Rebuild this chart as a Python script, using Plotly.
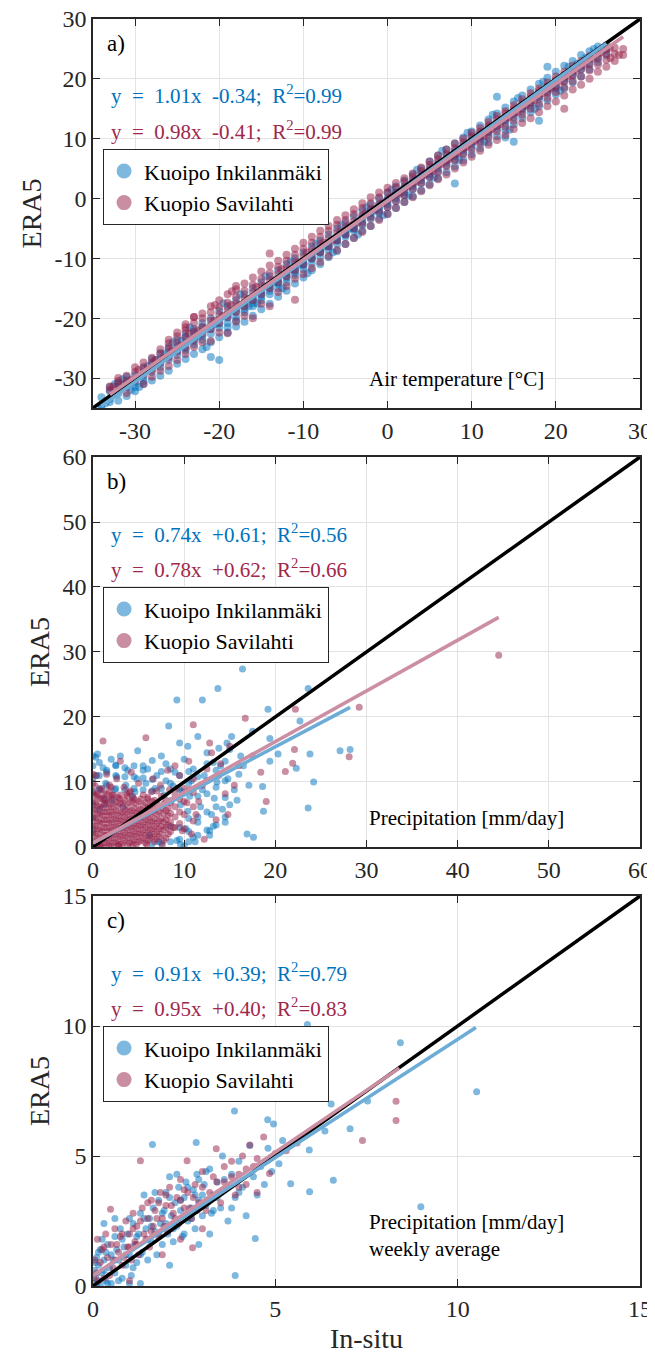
import plotly.graph_objects as go
from plotly.subplots import make_subplots

FONT = "Liberation Serif, Times New Roman, Tinos, DejaVu Serif, serif"
INK = "#262626"

# Station names
BLUE_NAME = "Kuoipo Inkilanmäki"
RED_NAME = "Kuopio Savilahti"

# a) daily air temperature: in-situ value -> ERA5 values read along the band
a_blue_cols = {
    -34: [-35.0, -34.5, -33.2], -33: [-34.0, -33.5, -32.2, -31.5], -32: [-33.8, -32.6, -31.0, -30.8],
    -31: [-33.0, -31.6, -30.4, -29.8], -30: [-32.2, -30.8, -29.5, -31.5], -29: [-31.0, -29.8, -28.4, -30.5],
    -28: [-30.4, -29.0, -27.6, -26.8], -27: [-29.6, -28.2, -26.8, -25.8, -27.5],
    -26: [-28.8, -27.0, -25.6, -24.8, -26.3], -25: [-27.6, -26.2, -24.8, -23.6, -25.5],
    -24: [-26.8, -25.4, -24.0, -22.6, -23.2, -25.0], -23: [-26.0, -24.4, -23.0, -21.8, -22.4, -23.8],
    -22: [-25.2, -23.6, -22.2, -20.8, -21.6, -22.9], -21: [-26.5, -24.0, -22.6, -21.2, -20.0, -21.8],
    -20: [-27.0, -23.2, -21.6, -20.2, -18.8, -20.9], -19: [-22.4, -20.8, -19.4, -18.0, -19.9, -21.5],
    -18: [-21.4, -19.8, -18.4, -17.0, -18.9, -20.4], -17: [-20.6, -19.0, -17.4, -16.0, -17.9, -18.5],
    -16: [-19.6, -18.0, -16.4, -15.0, -16.9, -17.5], -15: [-18.5, -17.0, -15.5, -14.0, -15.9, -16.4],
    -14: [-17.6, -16.0, -14.5, -13.0, -14.9, -15.4], -13: [-16.4, -15.0, -13.4, -12.0, -13.9, -14.3],
    -12: [-15.4, -14.0, -12.4, -11.0, -12.9, -13.3], -11: [-14.2, -12.8, -11.4, -10.0, -11.9, -12.3],
    -10: [-13.2, -11.8, -10.4, -9.0, -10.9, -11.2], -9: [-12.0, -10.8, -9.4, -8.0, -9.9, -10.1],
    -8: [-11.0, -9.8, -8.4, -7.0, -8.9, -9.0], -7: [-9.8, -8.6, -7.4, -6.0, -7.9, -8.0],
    -6: [-8.8, -7.6, -6.4, -5.0, -6.9, -7.0], -5: [-7.6, -6.4, -5.4, -4.0, -5.9, -6.0],
    -4: [-6.6, -5.4, -4.4, -3.0, -4.9, -5.0], -3: [-5.4, -4.4, -3.4, -2.0, -3.9, -3.0],
    -2: [-4.6, -3.4, -2.4, -1.0, -2.9, -2.0], -1: [-3.4, -2.4, -1.4, 0.0, -1.9, -1.0],
    0: [-2.6, -1.4, -0.4, 1.0, -0.9, 0.0], 1: [-1.6, -0.4, 0.6, 2.0, 0.1, 1.0],
    2: [-0.6, 0.6, 1.6, 3.0, 1.1, 2.0], 3: [0.4, 1.6, 2.6, 4.0, 2.1, 3.0],
    4: [1.4, 2.6, 3.6, 5.0, 3.1, 4.0], 5: [2.4, 3.6, 4.6, 6.2, 4.1, 5.0],
    6: [3.4, 4.6, 5.6, 7.2, 5.1, 6.0], 7: [4.4, 5.6, 6.6, 8.2, 6.1, 7.0],
    8: [2.5, 5.4, 6.6, 7.6, 9.2, 7.1, 8.0], 9: [6.4, 7.6, 8.6, 10.2, 8.1, 9.0],
    10: [7.4, 8.6, 9.6, 11.2, 9.1, 10.0], 11: [8.4, 9.6, 10.6, 12.2, 10.1, 11.0],
    12: [9.4, 10.6, 11.6, 13.2, 11.1, 12.0], 13: [10.4, 11.6, 12.6, 14.2, 17.0, 12.1],
    14: [11.4, 12.6, 13.6, 15.2, 10.2, 13.1], 15: [9.5, 12.4, 13.6, 14.6, 16.2, 14.1],
    16: [13.4, 14.6, 15.6, 17.2, 15.1], 17: [14.4, 15.6, 16.6, 18.2, 16.1],
    18: [15.4, 16.6, 17.6, 19.2, 13.0, 17.1], 19: [16.4, 17.6, 18.6, 20.2, 22.0, 18.1],
    20: [17.4, 18.6, 19.6, 21.2, 18.5], 21: [18.4, 19.6, 20.6, 22.2, 20.1],
    22: [19.4, 20.6, 21.6, 23.0, 21.1], 23: [20.4, 21.6, 22.6, 24.0, 22.1],
    24: [21.6, 22.6, 23.6, 24.6], 25: [22.8, 23.6, 24.6, 25.4], 26: [24.0, 24.8, 25.6],
}
a_red_cols = {
    -33: [-32.0, -31.4], -32: [-31.4, -30.5, -30.0], -31: [-32.5, -30.6, -29.6], -30: [-30.4, -29.0, -28.2],
    -29: [-31.0, -29.4, -28.2, -27.4], -28: [-29.8, -28.6, -27.4, -26.6], -27: [-28.8, -27.4, -26.0, -25.2],
    -26: [-28.0, -26.6, -25.0, -24.2, -23.6], -25: [-27.0, -25.6, -24.2, -23.0, -22.4],
    -24: [-26.0, -24.8, -23.2, -22.0, -21.0], -23: [-24.8, -23.6, -22.2, -20.8, -19.8],
    -22: [-24.0, -22.6, -21.4, -20.0, -19.2], -21: [-23.8, -21.8, -20.4, -19.0, -18.0],
    -20: [-22.4, -20.8, -19.4, -18.2, -17.0], -19: [-22.5, -19.8, -18.6, -17.4, -16.0],
    -18: [-20.6, -19.0, -17.6, -16.4, -15.2, -14.6], -17: [-19.6, -18.0, -16.6, -15.4, -14.2],
    -16: [-20.0, -17.0, -15.6, -14.4, -13.2], -15: [-17.6, -16.0, -14.6, -13.4, -12.2],
    -14: [-18.0, -15.0, -13.6, -12.4, -11.2, -9.2], -13: [-15.6, -14.0, -12.6, -11.4, -10.4],
    -12: [-14.6, -13.0, -11.6, -10.4, -9.4], -11: [-16.9, -12.0, -10.6, -9.4, -8.4, -13.4],
    -10: [-12.6, -11.0, -9.6, -8.4, -7.4], -9: [-11.6, -10.0, -8.6, -7.4, -6.4],
    -8: [-10.6, -9.0, -7.6, -6.4, -5.4], -7: [-9.6, -8.0, -6.6, -5.4, -4.6],
    -6: [-8.6, -7.0, -5.6, -4.4, -3.6], -5: [-7.6, -6.0, -4.8, -3.6, -2.8],
    -4: [-6.6, -5.0, -3.8, -2.6, -1.8], -3: [-5.6, -4.2, -2.8, -1.6, -0.8],
    -2: [-4.6, -3.2, -1.8, -0.8, 0.2], -1: [-3.6, -2.2, -1.0, 0.2, 1.0],
    0: [-2.6, -1.4, -0.2, 1.0, 1.8], 1: [-1.6, -0.4, 0.8, 1.8, 2.6],
    2: [-0.6, 0.6, 1.8, 2.8, 3.4], 3: [0.2, 1.6, 2.6, 3.6, 4.2],
    4: [1.2, 2.6, 3.6, 4.6, 5.2], 5: [2.2, 3.6, 4.6, 5.6, 6.2],
    6: [3.2, 4.4, 5.6, 6.6, 7.2], 7: [4.0, 5.4, 6.4, 7.4, 8.2],
    8: [5.0, 6.4, 7.4, 8.4, 9.2], 9: [6.0, 7.4, 8.4, 9.4, 10.0],
    10: [7.0, 8.2, 9.4, 10.4, 11.0], 11: [8.0, 9.2, 10.4, 11.2, 11.8],
    12: [9.0, 10.2, 11.2, 12.2, 12.8], 13: [9.8, 11.2, 12.2, 13.2, 13.8],
    14: [10.6, 12.0, 13.2, 14.2, 14.6], 15: [11.6, 13.0, 14.2, 15.0, 15.6],
    16: [12.6, 14.0, 15.0, 16.0, 16.6], 17: [13.4, 15.0, 16.0, 17.0, 17.6],
    18: [14.4, 15.8, 17.0, 18.0, 18.4], 19: [15.4, 16.8, 17.8, 18.8, 19.4],
    20: [16.2, 17.8, 18.8, 19.8, 20.4], 21: [15.0, 17.2, 18.6, 19.6, 20.6, 21.2],
    22: [18.2, 19.6, 20.6, 21.6, 22.2], 23: [19.0, 20.4, 21.6, 22.6, 23.0],
    24: [20.0, 21.4, 22.4, 23.4, 23.8], 25: [21.2, 22.4, 23.4, 24.2],
    26: [22.0, 23.2, 24.2, 25.0], 27: [23.0, 24.2, 25.2], 28: [24.0, 25.0],
}
# scattered points between the columns
a_blue_pts = [(-33.5, -34.2), (-32.4, -31.0), (-31.5, -30.2), (-30.5, -32.0), (-29.5, -31.5), (-28.5, -28.0),
              (-27.5, -27.0), (-26.5, -26.0), (-25.5, -24.0), (-24.5, -23.8), (-23.5, -21.5), (-22.5, -23.0),
              (-21.5, -24.8), (-20.5, -21.0), (-19.5, -17.5), (-18.5, -18.8), (-17.5, -16.0), (-16.5, -18.0),
              (-15.5, -17.5), (-14.5, -13.0), (-13.5, -14.0), (-12.5, -15.0), (-11.5, -10.5), (-10.5, -11.0),
              (-9.5, -12.5), (-8.5, -7.5), (-7.5, -8.0), (-6.5, -9.0), (-5.5, -4.5), (-4.5, -5.0),
              (-3.5, -6.0), (-2.5, -1.5), (-1.5, -2.0), (-0.5, -2.8), (0.5, 1.5), (1.5, 1.0),
              (2.5, 0.5), (3.5, 4.8), (4.5, 4.0), (5.5, 3.5), (6.5, 8.0), (7.5, 7.0),
              (8.5, 6.5), (9.5, 11.0), (10.5, 10.0), (11.5, 9.5), (12.5, 14.0), (13.5, 13.0),
              (14.5, 11.5), (15.5, 16.8), (16.5, 15.5), (17.5, 15.0), (18.5, 19.5), (19.5, 18.5),
              (20.5, 18.0), (21.5, 22.0), (22.5, 22.5), (23.5, 23.5), (24.5, 25.0), (25.5, 25.0)]
a_red_pts = [(-32.6, -31.4), (-31.4, -31.0), (-30.4, -30.3), (-29.6, -28.6), (-28.6, -28.6), (-27.6, -27.0),
             (-26.6, -26.6), (-25.6, -25.4), (-24.6, -24.6), (-23.6, -22.6), (-22.6, -22.0), (-21.6, -21.8),
             (-20.6, -20.4), (-19.6, -19.6), (-18.6, -17.8), (-17.6, -17.8), (-16.6, -16.8), (-15.6, -14.8),
             (-14.6, -14.6), (-13.6, -13.6), (-12.6, -11.8), (-11.6, -11.8), (-10.6, -10.6), (-9.6, -9.0),
             (-8.6, -8.8), (-7.6, -7.4), (-6.6, -7.0), (-5.6, -5.6), (-4.6, -4.6), (-3.6, -4.0),
             (-2.6, -2.6), (-1.6, -1.8), (-0.6, -0.8), (0.4, 0.2), (1.4, 0.8), (2.4, 2.0),
             (3.4, 2.8), (4.4, 4.0), (5.4, 4.6), (6.4, 5.8), (7.4, 6.6), (8.4, 7.6),
             (9.4, 8.6), (10.4, 9.6), (11.4, 10.4), (12.4, 11.6), (13.4, 12.4), (14.4, 13.6),
             (15.4, 14.4), (16.4, 15.6), (17.4, 16.4), (18.4, 17.6), (19.4, 18.4), (20.4, 19.6),
             (21.4, 20.4), (22.4, 21.4), (23.4, 22.4), (24.4, 23.4), (25.4, 24.4), (26.4, 25.2),
             (27.5, 24.0), (26.5, 23.5), (-24.0, -21.5), (-23.0, -19.8), (-20.5, -17.8), (-18.5, -15.5)]

# b) daily precipitation [mm/day]
b_blue_cols = {
    0.0: [0.5, 2.5, 4.5, 6.5, 8.5, 10.5, 12.5, 14.0], 0.7: [9.0, 11.0, 13.0], 1.5: [9.5, 11.8],
    2.5: [9.0, 11.0, 12.6], 3.5: [8.8, 10.8, 12.2], 4.5: [9.0, 10.8, 12.5], 5.5: [8.8, 10.6, 11.8],
    6.5: [0.5, 8.6, 10.4], 7.5: [0.6, 9.0, 11.6], 8.5: [0.8, 3.2, 9.8, 12.0], 9.5: [1.2, 3.0, 8.8, 11.0],
    10.5: [0.8, 2.4, 4.4, 9.8, 11.6], 11.5: [1.8, 4.6, 7.8, 10.8], 12.5: [2.6, 5.4, 8.2, 10.2, 12.8],
    13.5: [3.4, 6.2, 9.2, 11.8], 14.5: [4.6, 7.6, 10.2, 13.2],
}
b_red_cols = {
    0.0: [0.2, 1.0, 2.2, 3.4, 4.6, 5.8, 7.0, 8.4, 9.8, 11.2], 0.25: [0.8, 2.0, 3.2, 4.4, 5.6, 6.8, 8.0, 9.4],
    0.5: [0.4, 1.6, 2.8, 4.0, 5.2, 6.4, 7.8], 0.75: [0.2, 1.4, 2.6, 3.8, 5.0, 6.2, 7.4, 8.8],
    1.0: [0.0, 1.2, 2.4, 3.6, 4.8, 6.0, 7.4, 9.0], 1.25: [0.6, 1.8, 3.0, 4.2, 5.4, 6.6, 8.0],
    1.5: [0.6, 1.8, 3.0, 4.2, 5.4, 6.8, 8.2], 1.75: [0.2, 1.2, 2.4, 3.6, 4.8, 6.0, 7.2, 8.6],
    2.0: [0.2, 1.4, 2.6, 3.8, 5.0, 6.2, 7.6, 9.2], 2.25: [0.6, 1.8, 3.0, 4.2, 5.4, 6.6, 8.0],
    2.5: [0.8, 2.0, 3.2, 4.4, 5.6, 7.0], 2.75: [0.2, 1.2, 2.4, 3.6, 4.8, 6.2, 7.6],
    3.0: [0.4, 1.6, 2.8, 4.0, 5.2, 6.6, 8.0], 3.25: [0.6, 1.8, 3.0, 4.2, 5.4, 6.8],
    3.5: [1.0, 2.2, 3.4, 4.6, 5.8, 7.2], 3.75: [0.2, 1.4, 2.6, 3.8, 5.0, 6.2, 7.8],
    4.0: [0.6, 1.8, 3.0, 4.2, 5.4, 6.8, 8.4], 4.25: [0.8, 2.0, 3.2, 4.4, 5.6, 7.0],
    4.5: [1.2, 2.4, 3.6, 4.8, 6.0, 7.4], 4.75: [0.4, 1.6, 2.8, 4.0, 5.2, 6.6],
    5.0: [0.8, 2.0, 3.2, 4.4, 5.6, 7.0], 5.25: [1.0, 2.2, 3.4, 4.6, 5.8, 7.4],
    5.5: [1.4, 2.6, 3.8, 5.0, 6.4, 8.0], 5.75: [0.6, 1.8, 3.0, 4.2, 5.4, 6.8],
    6.0: [1.0, 2.2, 3.4, 4.6, 6.0, 7.6], 6.25: [1.4, 2.6, 3.8, 5.0, 6.4],
    6.5: [1.6, 2.8, 4.0, 5.4, 7.0], 6.75: [0.8, 2.0, 3.2, 4.4, 5.8, 7.2],
    7.0: [1.2, 2.4, 3.6, 5.0, 6.6, 8.6], 7.25: [1.6, 2.8, 4.0, 5.4],
    7.5: [2.0, 3.2, 4.4, 6.0, 7.8], 7.75: [1.0, 2.6, 3.8, 5.2, 6.6],
    8.0: [1.4, 3.0, 4.2, 5.6, 7.2], 8.25: [2.0, 3.4, 4.8, 6.0],
    8.5: [2.4, 3.8, 5.2, 6.8], 9.0: [3.0, 4.6, 6.2, 8.0],
    9.5: [3.6, 5.4, 7.4], 10.0: [2.8, 5.0, 7.0, 9.0], 11.0: [4.0, 6.2, 8.4],
}
b_blue_pts = [(0.3, 13.8), (0.5, 14.3), (1.2, 7.5), (1.4, 9.8), (1.5, 11.5), (2.4, 8.8), (2.6, 10.8),
              (3.6, 9.5), (3.8, 11.8), (4.6, 8.5), (4.8, 10.5), (5.8, 9.8), (6.0, 12.0), (6.8, 9.0),
              (7.0, 11.0), (7.8, 8.0), (8.0, 10.2), (8.6, 7.2), (8.8, 9.4), (9.0, 11.5), (9.6, 6.5),
              (9.8, 8.5), (10.0, 13.5), (10.2, 2.8), (10.4, 5.5), (10.6, 7.8), (10.8, 10.2), (11.0, 12.0),
              (11.2, 0.8), (11.5, 3.8), (11.8, 6.2), (12.0, 8.8), (12.2, 11.0), (12.5, 14.5), (12.8, 2.5),
              (13.0, 5.0), (13.3, 7.5), (13.6, 10.0), (14.0, 12.5), (14.5, 3.8), (15.0, 6.5), (15.5, 8.8),
              (16.0, 11.2), (15.2, 17.0), (14.7, 16.0), (13.2, 13.0), (10.4, 15.5), (9.5, 16.0), (4.9, 14.8),
              (3.0, 14.0), (2.5, 12.5), (6.5, 13.3), (7.5, 14.0), (11.5, 17.0), (13.8, 15.2), (12.8, 1.8),
              (10.0, 0.2), (5.5, 12.5), (8.0, 12.8), (2.0, 13.5), (0.4, 11.0), (1.1, 12.2), (4.3, 7.8),
              (0.9, 8.8), (2.1, 7.2), (1.3, 6.5), (0.7, 5.8), (3.3, 6.2), (6.2, 1.8), (7.2, 0.8), (9.2, 1.0),
              (15.8, 7.2), (16.5, 12.5), (14.8, 10.5), (14.2, 5.8), (13.2, 3.2), (11.0, 1.5), (9.6, 0.4),
              (16.4, 27.4), (13.7, 24.4), (23.6, 24.4), (9.2, 22.6), (12.0, 22.6), (19.2, 21.2), (22.7, 19.4),
              (8.3, 18.6), (19.4, 16.7), (24.2, 10.0), (23.6, 6.0), (18.7, 5.5), (16.9, 2.0), (17.6, 1.5),
              (27.1, 14.8), (28.2, 15.0), (23.8, 14.3), (22.3, 12.1), (20.3, 14.3), (19.4, 13.2), (18.6, 9.3),
              (17.1, 9.5), (16.2, 14.0), (17.5, 17.8), (15.0, 15.0)]
b_red_pts = [(0.3, 11.0), (1.1, 16.3), (1.8, 9.5), (2.6, 10.5), (3.4, 9.2), (4.1, 8.6), (4.2, 11.5),
             (5.0, 9.8), (5.8, 16.8), (6.4, 8.5), (6.6, 10.5), (7.4, 9.5), (8.2, 11.8), (9.2, 9.0),
             (9.5, 11.0), (10.6, 8.8), (11.0, 10.5), (11.3, 5.0), (11.6, 7.0), (12.0, 9.5), (12.5, 12.0),
             (11.0, 18.8), (13.0, 14.5), (12.8, 16.0), (14.0, 12.8), (13.5, 4.2), (14.8, 5.0), (15.5, 9.5),
             (16.0, 12.5), (15.0, 15.5), (16.7, 19.8), (22.2, 21.2), (29.2, 21.5), (44.5, 29.5), (22.1, 15.0),
             (21.9, 12.9), (21.1, 11.6), (18.4, 11.5), (28.1, 13.9), (17.5, 14.0), (13.8, 11.0), (10.5, 13.2),
             (3.0, 13.2), (1.5, 11.2), (9.0, 12.5), (12.2, 1.2), (10.8, 2.0), (19.0, 7.0), (14.5, 8.2),
             (9.8, 2.5), (10.3, 6.8), (8.8, 3.0), (8.4, 8.8), (0.8, 0.2), (2.8, 0.2), (4.4, 0.3), (5.9, 0.4),
             (7.6, 0.3), (3.7, 8.2), (2.1, 8.0), (0.5, 8.2), (1.3, 7.2), (2.9, 7.4), (4.4, 7.6), (6.0, 7.4)]

# c) weekly average precipitation [mm/day]
c_blue_pts = [(0.02, 0.1), (0.05, 0.6), (0.1, 1.1), (0.08, 0.3), (0.15, 0.8), (0.2, 0.05), (0.2, 1.4), (0.25, 0.5),
              (0.3, 1.0), (0.35, 0.2), (0.4, 1.6), (0.45, 0.7), (0.5, 1.2), (0.5, 0.1), (0.6, 1.9), (0.6, 0.5),
              (0.7, 1.0), (0.75, 2.2), (0.8, 0.3), (0.85, 1.5), (0.9, 0.8), (0.95, 2.0), (1.0, 1.2), (1.05, 0.4),
              (1.1, 2.4), (1.15, 1.6), (1.2, 0.9), (1.25, 2.0), (1.3, 2.8), (1.35, 1.3), (1.4, 3.5), (1.45, 2.2),
              (1.5, 1.0), (1.55, 2.6), (1.6, 1.7), (1.65, 3.0), (1.7, 2.1), (1.75, 1.2), (1.8, 3.3), (1.85, 2.4),
              (1.9, 1.6), (1.95, 2.9), (2.0, 3.6), (2.05, 2.0), (2.1, 4.2), (2.15, 2.7), (2.2, 1.7), (2.25, 3.2),
              (2.3, 2.3), (2.35, 3.8), (2.4, 2.9), (2.45, 1.9), (2.5, 3.4), (2.55, 4.0), (2.6, 2.5), (2.7, 3.0),
              (2.75, 3.7), (2.8, 2.2), (2.85, 4.3), (2.9, 3.3), (3.0, 2.7), (3.05, 3.9), (3.1, 3.1), (3.2, 4.5),
              (3.25, 2.8), (3.3, 3.5), (3.4, 4.0), (3.5, 3.0), (3.55, 5.0), (3.6, 3.7), (3.7, 2.5), (3.8, 4.3),
              (3.9, 3.4), (4.0, 4.8), (4.1, 3.8), (4.2, 2.7), (4.3, 5.4), (4.4, 4.2), (4.5, 3.5), (4.6, 4.6),
              (4.7, 3.9), (4.8, 5.3), (4.9, 4.4), (5.1, 4.7), (5.2, 5.6),
              (0.1, 0.0), (0.3, 0.6), (0.4, 0.1), (0.55, 1.0), (0.65, 1.4), (0.7, 0.2), (0.8, 1.8), (0.9, 1.2),
              (1.0, 2.6), (1.1, 0.7), (1.2, 1.9), (1.3, 1.2), (1.4, 2.6), (1.5, 1.8), (1.6, 2.3), (1.7, 3.6),
              (1.8, 2.0), (1.9, 2.8), (2.0, 2.4), (2.1, 3.4), (2.2, 2.2), (2.3, 4.3), (2.4, 3.3), (2.5, 2.0),
              (2.6, 3.8), (2.7, 2.6), (2.8, 3.5), (2.9, 4.1), (3.0, 3.5), (3.1, 4.4), (3.3, 2.9), (3.4, 3.4),
              (3.6, 4.1), (3.8, 3.0), (4.0, 3.6), (0.15, 1.3), (0.05, 0.9), (0.25, 1.8), (0.35, 1.3),
              (5.88, 10.06), (8.43, 9.36), (10.52, 7.47), (5.87, 7.37), (6.53, 7.0), (3.88, 6.73), (4.79, 6.39),
              (7.53, 7.12), (7.05, 6.05), (6.36, 5.96), (5.93, 5.23), (5.42, 3.93), (6.59, 4.07), (5.94, 3.63),
              (8.99, 3.05), (4.45, 1.83), (3.9, 0.4), (1.63, 5.44), (2.83, 5.52), (4.95, 6.23), (2.1, 0.8),
              (1.0, 0.1), (2.9, 1.6), (3.2, 2.0), (0.3, 2.4), (0.6, 2.6), (1.3, 0.1)]
c_red_pts = [(0.02, 0.3), (0.05, 1.0), (0.1, 0.5), (0.12, 1.8), (0.2, 0.9), (0.25, 1.4), (0.3, 0.3), (0.35, 2.0),
             (0.4, 1.1), (0.48, 2.95), (0.5, 1.6), (0.55, 0.7), (0.6, 2.2), (0.7, 1.3), (0.75, 1.9), (0.8, 0.8),
             (0.9, 2.5), (0.95, 1.5), (1.0, 2.0), (1.05, 1.0), (1.1, 2.8), (1.15, 1.7), (1.2, 2.3), (1.25, 1.2),
             (1.3, 4.82), (1.35, 3.0), (1.4, 2.0), (1.5, 2.6), (1.55, 1.5), (1.6, 3.3), (1.65, 2.3), (1.7, 2.9),
             (1.8, 1.9), (1.85, 3.6), (1.9, 2.6), (2.0, 3.1), (2.05, 2.1), (2.1, 3.8), (2.2, 2.8), (2.3, 3.4),
             (2.35, 2.4), (2.4, 4.1), (2.5, 3.0), (2.58, 4.82), (2.6, 3.6), (2.7, 2.6), (2.73, 1.47), (2.8, 3.9),
             (2.9, 3.2), (3.0, 4.4), (3.1, 2.9), (3.2, 3.6), (3.38, 5.28), (3.4, 4.0), (3.5, 3.2), (3.6, 4.6),
             (3.7, 3.8), (3.8, 4.8), (3.9, 3.5), (4.0, 4.3), (4.1, 5.0), (4.2, 3.9), (4.3, 5.42), (4.4, 4.6),
             (4.5, 3.6), (4.68, 5.73), (4.84, 4.33), (5.0, 5.1), (5.3, 5.2), (5.6, 5.5), (6.3, 7.37),
             (8.31, 7.11), (8.31, 6.37), (7.39, 5.6), (1.0, 0.2), (1.9, 1.2), (2.4, 1.8), (3.0, 2.2),
             (0.15, 0.2), (0.3, 1.5), (0.45, 0.4), (0.6, 1.0), (0.65, 1.6), (0.8, 2.0), (0.85, 1.1), (1.0, 1.5),
             (1.1, 2.2), (1.2, 1.6), (1.3, 2.5), (1.45, 1.8), (1.5, 3.2), (1.6, 2.1), (1.75, 2.6), (1.8, 3.2),
             (1.95, 2.3), (2.0, 3.5), (2.15, 3.1), (2.25, 2.6), (2.4, 3.3), (2.5, 3.7), (2.65, 3.0), (2.75, 3.4),
             (2.85, 2.9), (3.0, 3.8), (3.15, 3.3), (3.3, 4.2), (3.45, 3.6), (3.6, 4.0), (3.8, 4.2), (4.0, 3.8),
             (4.2, 4.5), (4.5, 4.9)]

# regression results: (slope, intercept, R2, x start, x end)
a_fits = [(1.01, -0.34, 0.99, -34.0, 26.0), (0.98, -0.41, 0.99, -33.0, 28.0)]
b_fits = [(0.74, 0.61, 0.56, 0.0, 28.2), (0.78, 0.62, 0.66, 0.0, 44.5)]
c_fits = [(0.91, 0.39, 0.79, 0.0, 10.5), (0.95, 0.40, 0.83, 0.0, 8.4)]

# (range, tick step, panel label, note text, marker size)
panels = [
    ((-35, 30), 10, "a)", "Air temperature [°C]", 8),
    ((0, 60), 10, "b)", "Precipitation [mm/day]", 7),
    ((0, 15), 5, "c)", "Precipitation [mm/day]<br>weekly average", 7),
]

# Colors
blue_pt = "rgba(0,114,189,0.5)"
red_pt = "rgba(150,30,70,0.5)"
blue_fit = "rgb(108,172,214)"
red_fit = "rgb(203,142,163)"
blue_txt = "rgb(0,114,189)"
red_txt = "rgb(160,40,75)"

# y domains of the three panels (top to bottom), inside the margins
y_domains = [[0.693, 1.0], [0.3465, 0.6543], [0.0, 0.3078]]
legend_tops = [0.8974, 0.5517, 0.2052]


def expand(cols, pts):
    xs, ys = [], []
    for x, vals in cols.items():
        for v in vals:
            xs.append(x)
            ys.append(v)
    for p in pts:
        xs.append(p[0])
        ys.append(p[1])
    return xs, ys


def fit_line(fit):
    slope, icpt, r2, x0, x1 = fit
    return [x0, x1], [slope * x0 + icpt, slope * x1 + icpt]


def eq_text(fit):
    slope, icpt, r2, x0, x1 = fit
    sign = "+" if icpt >= 0 else "-"
    return "y\u00a0 =\u00a0 %.2fx\u00a0 %s%.2f;\u00a0 R<sup>2</sup>=%.2f" % (slope, sign, abs(icpt), r2)


def tick_labels(lo, hi, step):
    start = lo if lo % step == 0 else lo + (step - lo % step)
    vals = list(range(int(start), int(hi) + 1, step))
    return vals, ["%d" % v for v in vals]


fig = make_subplots(rows=3, cols=1)

data = [
    (expand(a_blue_cols, a_blue_pts), expand(a_red_cols, a_red_pts), a_fits),
    (expand(b_blue_cols, b_blue_pts), expand(b_red_cols, b_red_pts), b_fits),
    (expand({}, c_blue_pts), expand({}, c_red_pts), c_fits),
]
for i, ((blue, red, fits), (rng, step, label, note, msize)) in enumerate(zip(data, panels)):
    row = i + 1
    leg = "legend" if i == 0 else "legend%d" % row
    fig.add_trace(go.Scatter(x=blue[0], y=blue[1], mode="markers", showlegend=False,
                             marker=dict(size=msize, color=blue_pt, line=dict(width=0))), row=row, col=1)
    fig.add_trace(go.Scatter(x=red[0], y=red[1], mode="markers", showlegend=False,
                             marker=dict(size=msize, color=red_pt, line=dict(width=0))), row=row, col=1)
    fig.add_trace(go.Scatter(x=list(rng), y=list(rng), mode="lines", showlegend=False,
                             line=dict(color="black", width=3.5)), row=row, col=1)
    for fit, col in zip(fits, [blue_fit, red_fit]):
        fx, fy = fit_line(fit)
        fig.add_trace(go.Scatter(x=fx, y=fy, mode="lines", showlegend=False,
                                 line=dict(color=col, width=3.5)), row=row, col=1)
    # legend-only entries
    for name, col in [(BLUE_NAME, blue_pt), (RED_NAME, red_pt)]:
        fig.add_trace(go.Scatter(x=[None], y=[None], mode="markers", name=name, legend=leg,
                                 marker=dict(size=15, color=col)), row=row, col=1)

    vals, texts = tick_labels(rng[0], rng[1], step)
    axis_style = dict(
        range=list(rng), tickvals=vals, ticktext=texts, automargin=False, ticklabeloverflow="allow",
        showline=True, linecolor=INK, linewidth=1.5, mirror="ticks",
        ticks="inside", ticklen=7, tickcolor=INK, tickwidth=1.2,
        showgrid=True, gridcolor="#e3e3e3", gridwidth=1, zeroline=False,
        tickfont=dict(family=FONT, size=24, color=INK),
    )
    fig.update_xaxes(axis_style, domain=[0.0, 1.0], row=row, col=1)
    fig.update_yaxes(axis_style, domain=y_domains[i], row=row, col=1,
                     title=dict(text="ERA5", font=dict(family=FONT, size=28, color=INK), standoff=5))

    xr = "x domain" if i == 0 else "x%d domain" % row
    yr = "y domain" if i == 0 else "y%d domain" % row
    fig.add_annotation(text=label, xref=xr, yref=yr, x=0.022, y=0.937, xanchor="left", yanchor="middle",
                       showarrow=False, font=dict(family=FONT, size=23, color="black"))
    fig.add_annotation(text=eq_text(fits[0]), xref=xr, yref=yr, x=0.03, y=0.805, xanchor="left",
                       yanchor="middle", showarrow=False, font=dict(family=FONT, size=21, color=blue_txt))
    fig.add_annotation(text=eq_text(fits[1]), xref=xr, yref=yr, x=0.03, y=0.713, xanchor="left",
                       yanchor="middle", showarrow=False, font=dict(family=FONT, size=21, color=red_txt))
    fig.add_annotation(text=note, xref=xr, yref=yr, x=0.5, y=0.075 if i < 2 else 0.13, xanchor="left",
                       yanchor="middle", align="left", showarrow=False,
                       font=dict(family=FONT, size=21, color="black"))

    fig.update_layout({leg: dict(
        x=0.018, y=legend_tops[i], xanchor="left", yanchor="top",
        bgcolor="white", bordercolor=INK, borderwidth=1.2,
        font=dict(family=FONT, size=22, color="black"),
        itemwidth=30, tracegroupgap=0,
    )})

fig.update_xaxes(title=dict(text="In-situ", font=dict(family=FONT, size=28, color=INK), standoff=10), row=3, col=1)

# the page body adds an 8 px offset, so the figure is 8 px smaller and shifted
fig.update_layout(
    width=647,
    height=1346,
    margin=dict(l=85, r=15, t=11, b=68, autoexpand=False),
    paper_bgcolor="white",
    plot_bgcolor="white",
    font=dict(family=FONT, color=INK),
)

fig.write_html("out.html")
